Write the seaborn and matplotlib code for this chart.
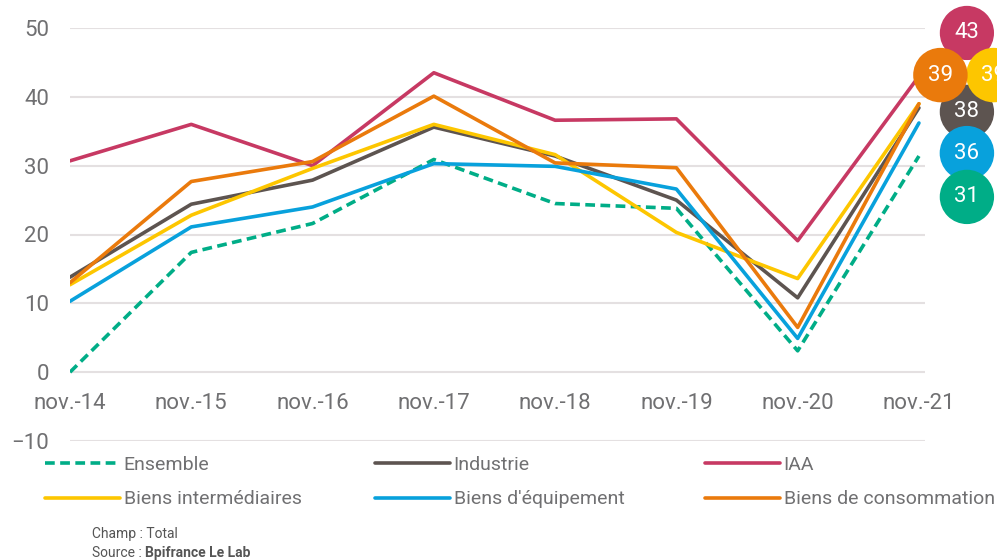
import numpy as np
import pandas as pd
import matplotlib
matplotlib.use("Agg")
import matplotlib.pyplot as plt
import seaborn as sns

# --- Data ---
PERIODS = ["nov.-14", "nov.-15", "nov.-16", "nov.-17", "nov.-18", "nov.-19", "nov.-20", "nov.-21"]
SERIES = ["Ensemble", "Industrie", "IAA", "Biens intermédiaires",
          "Biens d'équipement", "Biens de consommation"]
ensemble = [0.0, 17.4, 21.6, 30.9, 24.5, 23.8, 3.1, 31.4]
industrie = [13.8, 24.4, 27.9, 35.6, 31.4, 25.0, 10.8, 38.4]
iaa = [30.7, 36.0, 30.0, 43.5, 36.6, 36.8, 19.1, 43.0]
biens_inter = [12.7, 22.8, 29.6, 36.0, 31.6, 20.3, 13.6, 39.0]
biens_equip = [10.3, 21.1, 24.0, 30.3, 29.9, 26.6, 4.9, 36.2]
biens_conso = [13.0, 27.7, 30.6, 40.1, 30.4, 29.7, 6.5, 39.0]
Y_TICKS = [-10, 0, 10, 20, 30, 40, 50]

# --- Styling ---
COLORS = {
    "Ensemble": "#00ad87",
    "Industrie": "#5d5450",
    "IAA": "#c73963",
    "Biens intermédiaires": "#fdc600",
    "Biens d'équipement": "#08a1dc",
    "Biens de consommation": "#ea7a0c",
}
TEXT_GREY = "#707072"
GRID_GREY = "#e4e0e1"
# end-of-line bubbles: (x, y) in axes fraction, drawing order
BUBBLES = [
    ("IAA", 1.049, 0.988),
    ("Industrie", 1.049, 0.797),
    ("Biens d'équipement", 1.049, 0.697),
    ("Ensemble", 1.049, 0.591),
    ("Biens intermédiaires", 1.080, 0.886),
    ("Biens de consommation", 1.018, 0.886),
]
# legend columns (left edge in figure fraction) and their entries
LEGEND_COLS = [
    (0.045, ["Ensemble", "Biens intermédiaires"]),
    (0.376, ["Industrie", "Biens d'équipement"]),
    (0.707, ["IAA", "Biens de consommation"]),
]

sns.set_theme(style="white")
plt.rcParams["font.family"] = ["Roboto", "DejaVu Sans"]

df = pd.DataFrame({
    "period": np.arange(len(PERIODS)),
    "Ensemble": ensemble,
    "Industrie": industrie,
    "IAA": iaa,
    "Biens intermédiaires": biens_inter,
    "Biens d'équipement": biens_equip,
    "Biens de consommation": biens_conso,
})
long_df = df.melt(id_vars="period", var_name="serie", value_name="value")

fig = plt.figure(figsize=(9.97, 5.6), dpi=100)
ax = fig.add_axes([0.0702, 0.2125, 0.8576, 0.7375])

for name in SERIES:
    sub = long_df[long_df["serie"] == name]
    sns.lineplot(data=sub, x="period", y="value", ax=ax, color=COLORS[name],
                 linewidth=2.6, label=name, legend=False)
    if name == "Ensemble":
        ax.lines[-1].set_dashes((2.7, 1.5))

ax.set_xlim(0, 7.05)
ax.set_ylim(-10, 50)
ax.set_yticks(Y_TICKS)
ax.set_xticks([])
ax.set_xlabel("")
ax.set_ylabel("")
ax.grid(axis="y", color=GRID_GREY, linewidth=1.5)
ax.set_axisbelow(True)
sns.despine(ax=ax, left=True, bottom=True)
ax.tick_params(axis="y", length=0, pad=15, labelsize=16, labelcolor=TEXT_GREY)

# x labels sit inside the plot, between 0 and -10
for i, lab in enumerate(PERIODS):
    ax.text(i, -4.5, lab, ha="center", va="center", fontsize=16, color=TEXT_GREY)

# --- Bubbles with last values ---
last = df.iloc[-1]
for z, (name, bx, by) in enumerate(BUBBLES):
    ax.text(bx, by, f"{round(last[name]):d}", transform=ax.transAxes,
            ha="center", va="center", fontsize=16, color="white",
            clip_on=False, zorder=10 + z,
            bbox=dict(boxstyle="circle,pad=0.66", fc=COLORS[name], ec="none"))

# --- Legend, one block per column ---
handles, labels = ax.get_legend_handles_labels()
lookup = dict(zip(labels, handles))
for x0, names in LEGEND_COLS:
    leg = fig.legend([lookup[k] for k in names], names, frameon=False,
                     loc="upper left", bbox_to_anchor=(x0, 0.186),
                     fontsize=14, handlelength=3.85, handletextpad=0.2,
                     labelspacing=0.85, borderaxespad=0, borderpad=0)
    for t in leg.get_texts():
        t.set_color(TEXT_GREY)

# --- Footer ---
fig.text(0.092, 0.04, "Champ : Total", fontsize=10, color="#555555")
src = fig.text(0.092, 0.005, "Source : ", fontsize=10, color="#555555")
ax.annotate("Bpifrance Le Lab", xy=(1, 0), xycoords=src, fontsize=10,
            color="#555555", fontweight="bold", va="bottom", ha="left",
            annotation_clip=False)

fig.savefig("out.png", dpi=100)
